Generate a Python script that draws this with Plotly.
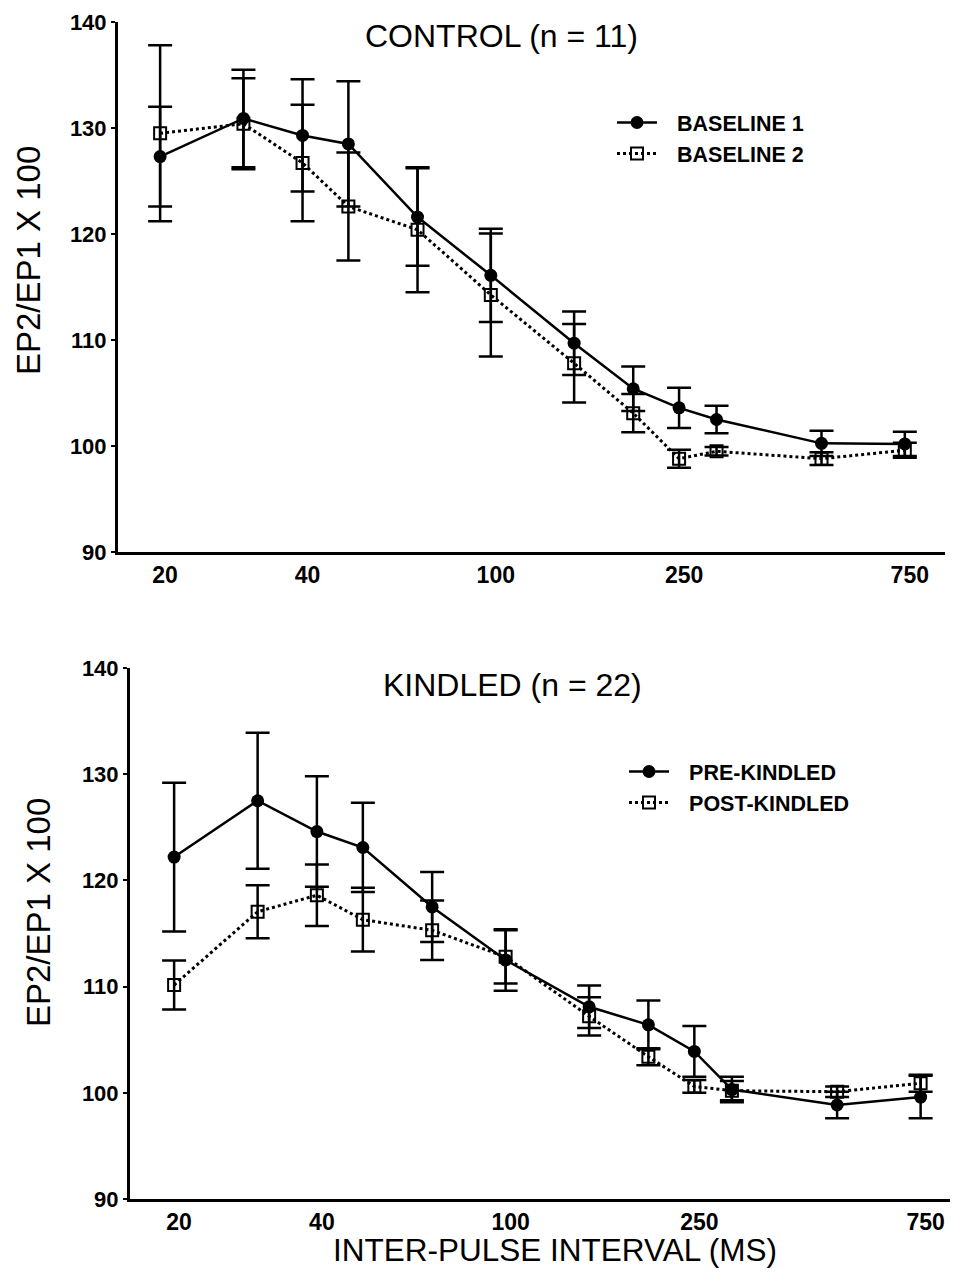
import plotly.graph_objects as go

# ---------------- data ----------------
ipi_ms = [20, 30, 40, 50, 70, 100, 150, 200, 250, 300, 500, 750]
x_tick_vals = [20, 40, 100, 250, 750]
x_tick_text = ["20", "40", "100", "250", "750"]
y_tick_vals = [90, 100, 110, 120, 130, 140]

# CONTROL (n = 11)
baseline1 = [127.3, 130.9, 129.3, 128.5, 121.6, 116.1, 109.7, 105.4, 103.6, 102.5, 100.25, 100.2]
baseline1_err = [4.7, 4.6, 5.3, 5.9, 4.6, 4.4, 3.0, 2.1, 1.9, 1.3, 1.2, 1.15]
baseline2 = [129.5, 130.4, 126.7, 122.6, 120.4, 114.25, 107.8, 103.1, 98.8, 99.5, 98.8, 99.6]
baseline2_err = [8.3, 4.3, 5.5, 5.1, 5.9, 5.8, 3.7, 1.8, 0.85, 0.4, 0.6, 0.7]

# KINDLED (n = 22)
pre_kindled = [122.2, 127.5, 124.6, 123.1, 117.5, 112.5, 108.1, 106.4, 103.9, 100.3, 98.85, 99.6]
pre_kindled_err = [7.0, 6.4, 5.2, 4.2, 3.3, 2.9, 2.0, 2.3, 2.4, 1.2, 1.25, 2.0]
post_kindled = [110.15, 117.05, 118.6, 116.3, 115.3, 112.8, 107.2, 103.4, 100.6, 100.2, 100.1, 100.9]
post_kindled_err = [2.3, 2.5, 2.9, 3.0, 2.8, 2.5, 1.8, 0.8, 0.6, 0.9, 0.5, 0.8]

# ---------------- layout helpers ----------------
W, H = 953, 1276
FONT = "Liberation Sans, Arial, sans-serif"
GAP = "\u2002\u2009"  # small gap between legend symbol and legend text


def px_x(p):
    return p / W


def px_y(p):
    return 1 - p / H


def series(x, y, err, name, filled, xa, ya, leg):
    if filled:
        marker = dict(symbol="circle", size=13, color="black")
        line = dict(color="black", width=2.5)
    else:
        marker = dict(symbol="square-open", size=12, color="black", line=dict(width=2, color="black"))
        line = dict(color="black", width=3, dash="dot")
    return go.Scatter(
        x=x, y=y, name=GAP + name, mode="lines+markers",
        line=line, marker=marker,
        error_y=dict(type="data", array=err, visible=True, color="black", thickness=2.5, width=12),
        xaxis=xa, yaxis=ya, legend=leg,
    )


fig = go.Figure()
fig.add_trace(series(ipi_ms, baseline1, baseline1_err, "BASELINE 1", True, "x", "y", "legend"))
fig.add_trace(series(ipi_ms, baseline2, baseline2_err, "BASELINE 2", False, "x", "y", "legend"))
fig.add_trace(series(ipi_ms, pre_kindled, pre_kindled_err, "PRE-KINDLED", True, "x2", "y2", "legend2"))
fig.add_trace(series(ipi_ms, post_kindled, post_kindled_err, "POST-KINDLED", False, "x2", "y2", "legend2"))

xaxis_common = dict(
    type="log", tickvals=x_tick_vals, ticktext=x_tick_text, automargin=False, ticklabelshift=5,
    showline=True, linecolor="black", linewidth=3, ticks="", showgrid=False, zeroline=False,
    tickfont=dict(family=FONT, size=23, color="black", weight="bold"),
)
yaxis_common = dict(
    range=[90, 140], tickvals=y_tick_vals, automargin=False,
    showline=True, linecolor="black", linewidth=3, ticks="outside", ticklen=4, tickwidth=2,
    tickcolor="black", showgrid=False, zeroline=False,
    tickfont=dict(family=FONT, size=22, color="black", weight="bold"),
)


def label(text, x, y, size, angle=0):
    return dict(text=text, x=px_x(x), y=px_y(y), xref="paper", yref="paper",
                xanchor="center", yanchor="middle", textangle=angle,
                showarrow=False, font=dict(family=FONT, size=size, color="black"))


legend_font = dict(family=FONT, size=21.5, color="black", weight="bold")

fig.update_layout(
    template="none",
    width=W, height=H, autosize=False,
    margin=dict(l=0, r=0, t=0, b=0, pad=0),
    paper_bgcolor="white", plot_bgcolor="white",
    font=dict(family=FONT, color="black"),
    showlegend=True,
    xaxis=dict(xaxis_common, domain=[px_x(118), px_x(945)], range=[1.212, 2.96], anchor="y"),
    yaxis=dict(yaxis_common, domain=[px_y(552), px_y(22)], anchor="x"),
    xaxis2=dict(xaxis_common, domain=[px_x(130), px_x(950)], range=[1.208, 2.937], anchor="y2"),
    yaxis2=dict(yaxis_common, domain=[px_y(1199), px_y(668)], anchor="x2"),
    legend=dict(
        x=px_x(612), y=px_y(102), xanchor="left", yanchor="top",
        bgcolor="rgba(0,0,0,0)", borderwidth=0, itemwidth=40, tracegroupgap=0,
        font=legend_font,
    ),
    legend2=dict(
        x=px_x(624), y=px_y(751), xanchor="left", yanchor="top",
        bgcolor="rgba(0,0,0,0)", borderwidth=0, itemwidth=40, tracegroupgap=0,
        font=legend_font,
    ),
    annotations=[
        label("CONTROL (n = 11)", 502, 36, 32),
        label("KINDLED (n = 22)", 512, 685, 32),
        label("EP2/EP1 X 100", 28, 261, 33, -90),
        label("EP2/EP1 X 100", 38, 913, 33, -90),
        label("INTER-PULSE INTERVAL (MS)", 555, 1250, 31.5),
    ],
)

fig.write_html(
    "out.html",
    config={"displayModeBar": False},
    post_script="document.body.style.margin='0';document.body.style.overflow='hidden';",
)
